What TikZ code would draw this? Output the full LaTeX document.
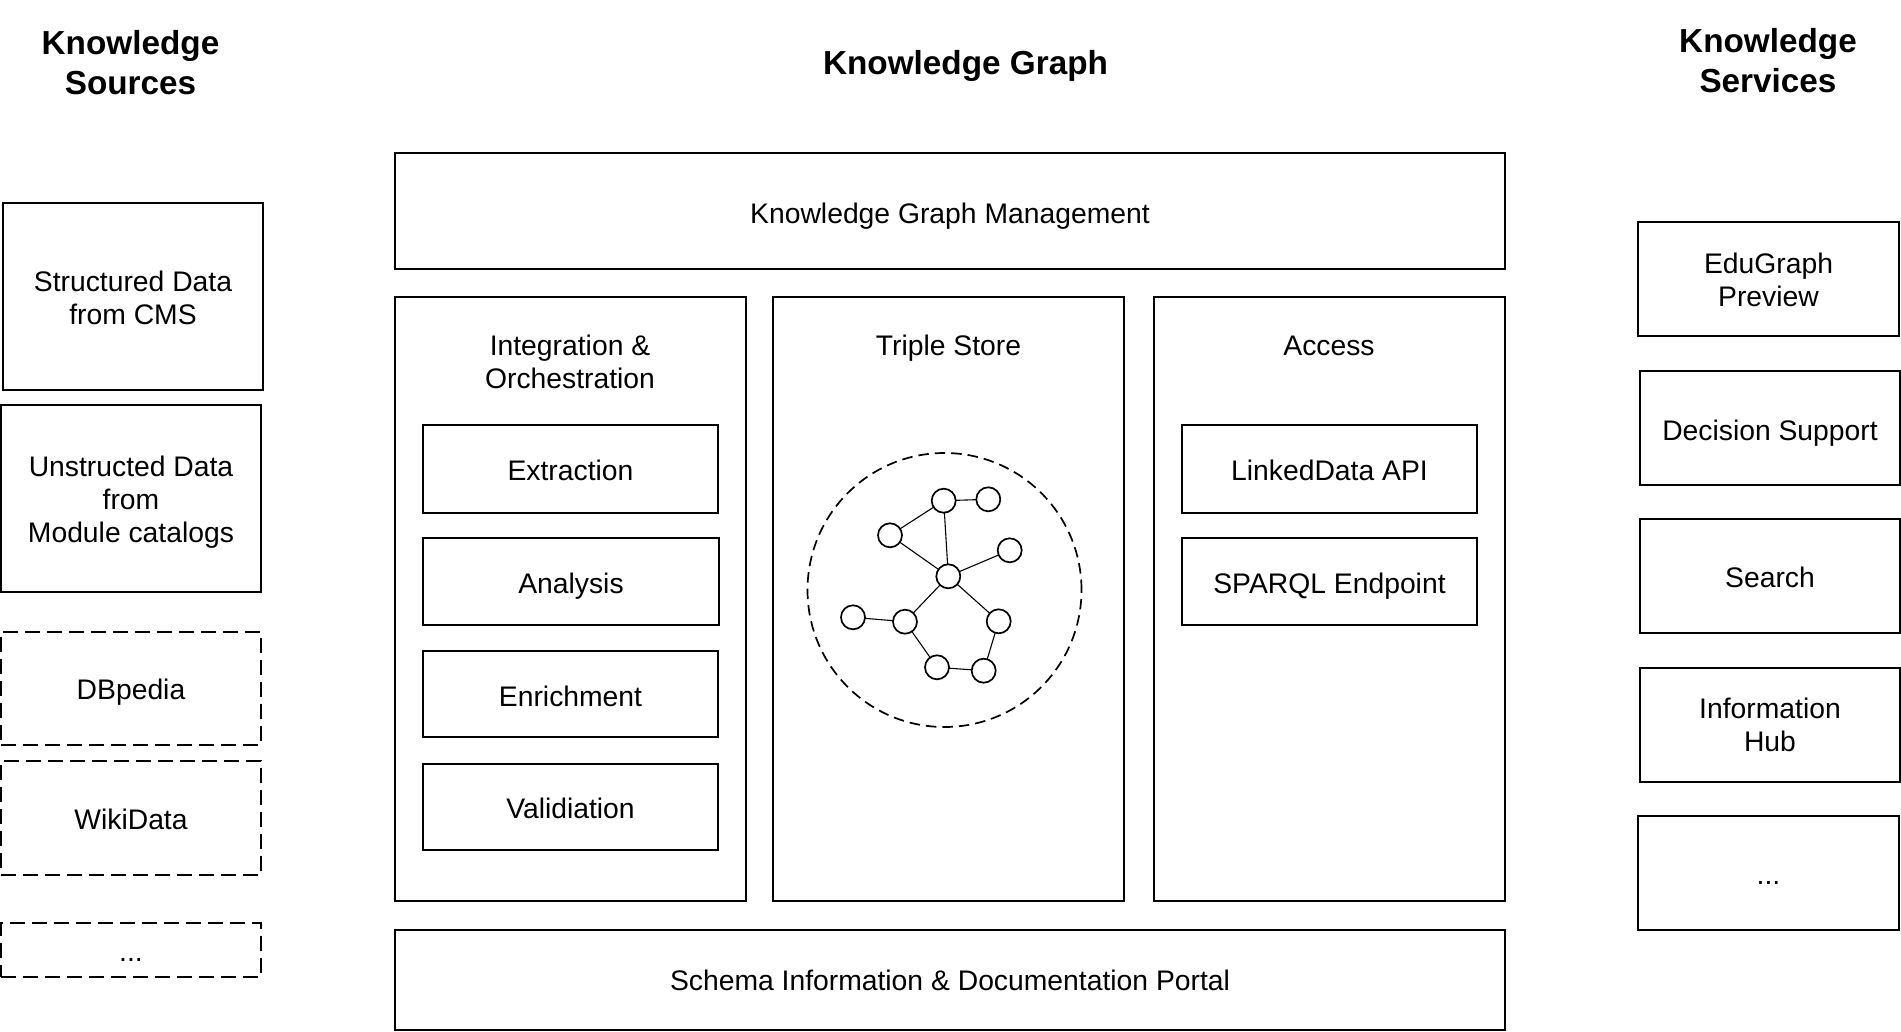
\documentclass[tikz,border=0pt]{standalone}
\usepackage{fontspec}
\setmainfont{Liberation Sans}
\usetikzlibrary{backgrounds}
\tikzset{
  x=1pt,y=-1pt,
  boxbase/.style={rectangle,draw=black,line width=2pt,inner sep=0pt,outer sep=0pt},
  solidbox/.style={boxbase},
  dashbox/.style={boxbase,dash pattern=on 15pt off 7pt},
  title/.style={inner sep=0pt,align=center,font=\fontsize{33.3}{40}\selectfont\bfseries},
  label/.style={inner sep=0pt,align=center,font=\fontsize{28.3}{33}\selectfont},
  vertex/.style={circle,draw=black,fill=white,line width=1.7pt,minimum size=24pt,inner sep=0pt,outer sep=0pt},
  edge/.style={draw=black,line width=1.1pt},
}
% name, x1, y1, x2, y2, style, text, text shift
\newcommand{\bx}[8]{%
  \node[#6,minimum width={(#4-#2)*1pt},minimum height={(#5-#3)*1pt}] (#1) at ({(#2+#4)/2},{(#3+#5)/2}) {};
  \node[label] (#1text) at ({(#2+#4)/2},{(#3+#5)/2+#8}) {#7};}
\begin{document}
\begin{tikzpicture}
\useasboundingbox (0,0) rectangle (1901,1031);
% titles
\node[title] (tsrc) at (130.5,62.5) {Knowledge\\Sources};
\node[title] (tkg) at (965.5,66) {Knowledge Graph};
\node[title] (tsvc) at (1768,61) {Knowledge\\Services};
% sources
\bx{s1}{3}{202.5}{263}{389.5}{solidbox}{Structured Data\\from CMS}{2}
\bx{s2}{1}{405}{261}{591.5}{solidbox}{Unstructed Data\\from\\Module catalogs}{3.5}
\bx{s3}{1}{632}{261}{745}{dashbox}{DBpedia}{3.5}
\bx{s4}{1}{761}{261}{875}{dashbox}{WikiData}{1}
\bx{s5}{1}{923}{261}{977}{dashbox}{...}{9.5}
% centre
\bx{mgmt}{395}{153}{1505}{269}{solidbox}{Knowledge Graph Management}{5}
\bx{integ}{395}{297}{746}{901}{solidbox}{}{0}
\bx{store}{773}{297}{1124}{901}{solidbox}{}{0}
\bx{access}{1154}{297}{1505}{901}{solidbox}{}{0}
\bx{schema}{395}{930}{1505}{1030}{solidbox}{Schema Information \& Documentation Portal}{0}
\node[label] (lint) at (570,362) {Integration \&\\Orchestration};
\node[label] (lsto) at (948.5,348) {Triple Store};
\node[label] (lacc) at (1329,345.5) {Access};
\bx{c1}{423}{425}{718}{513}{solidbox}{Extraction}{1}
\bx{c2}{423}{538}{719}{625}{solidbox}{Analysis}{5}
\bx{c3}{423}{651}{718}{737}{solidbox}{Enrichment}{2.5}
\bx{c4}{423}{764}{718}{850}{solidbox}{Validiation}{1}
\bx{a1}{1182}{425}{1477}{513}{solidbox}{LinkedData API}{1}
\bx{a2}{1182}{538}{1477}{625}{solidbox}{SPARQL Endpoint}{5}
% graph
\node[circle,draw=black,line width=1.7pt,dash pattern=on 10.5pt off 6pt,minimum size=274pt,inner sep=0pt] (ring) at (944.5,590) {};
\node[vertex] (na) at (943.7,500.7) {};
\node[vertex] (nb) at (988.3,499.3) {};
\node[vertex] (nc) at (890,535.3) {};
\node[vertex] (nd) at (1009.7,550.3) {};
\node[vertex] (ne) at (948.3,576.3) {};
\node[vertex] (nf) at (853,617.3) {};
\node[vertex] (ng) at (905,621.7) {};
\node[vertex] (nh) at (998.7,621.3) {};
\node[vertex] (ni) at (937,667.3) {};
\node[vertex] (nj) at (983.7,670.7) {};
\draw[edge] (na)--(nb) (na)--(nc) (na)--(ne) (nc)--(ne) (nd)--(ne) (ne)--(ng) (ne)--(nh)
  (nf)--(ng) (ng)--(ni) (ni)--(nj) (nj)--(nh);
% services
\bx{k1}{1638}{222}{1899}{336}{solidbox}{EduGraph\\Preview}{1}
\bx{k2}{1640}{371}{1900}{485}{solidbox}{Decision Support}{5}
\bx{k3}{1640}{519}{1900}{633}{solidbox}{Search}{1}
\bx{k4}{1640}{668}{1900}{782}{solidbox}{Information\\Hub}{0}
\bx{k5}{1638}{816}{1899}{930}{solidbox}{...}{10}
\end{tikzpicture}
\end{document}
